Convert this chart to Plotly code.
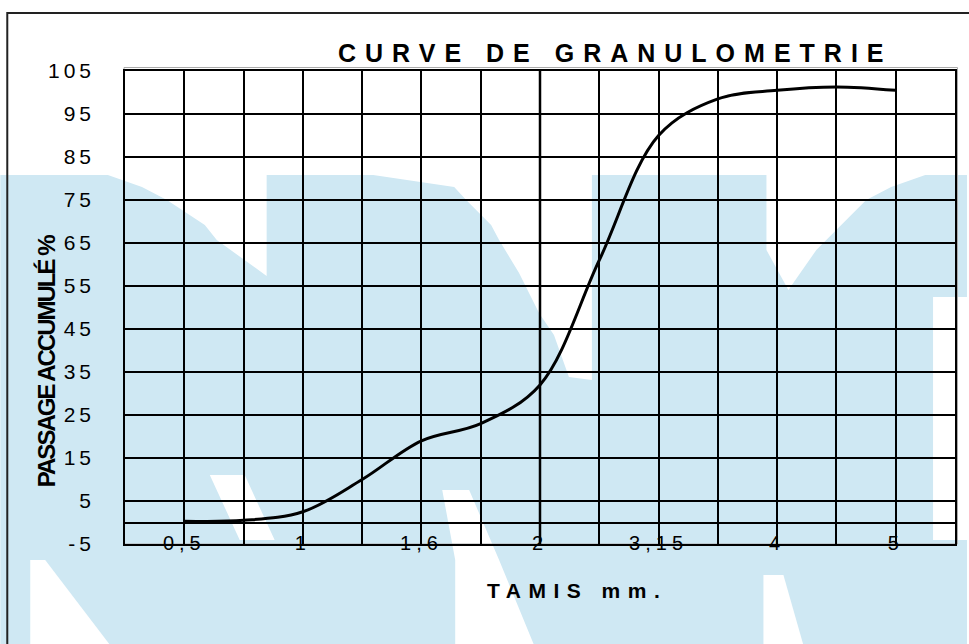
import plotly.graph_objects as go

# ---- data ----
sieve_labels = ['0,5', '1', '1,6', '2', '3,15', '4', '5']
point_positions = [0, 0.5, 1, 1.5, 2, 2.5, 3, 3.5, 4, 4.5, 5, 5.5, 6]
passing_pct = [0.3, 0.5, 2.5, 10, 19, 23, 32, 61, 90, 98.5, 100.5, 101.3, 100.5]
y_tick_values = [-5, 5, 15, 25, 35, 45, 55, 65, 75, 85, 95, 105]
y_tick_labels = ['-5', '5', '15', '25', '35', '45', '55', '65', '75', '85', '95', '105']

FONT = 'Liberation Sans, Arial, sans-serif'
W, H = 969, 644
PL, PR, PT, PB = 125, 957, 71, 544


def px(x):
    return (x - PL) / (PR - PL)


def py(y):
    return (PB - y) / (PB - PT)


def path(points):
    return 'M ' + ' L '.join(f'{px(x):.5f},{py(y):.5f}' for x, y in points) + ' Z'


def spaced(t, sp):
    return f'<span style="letter-spacing:{sp}px">{t}</span>' if t else ''


BLUE = '#cfe8f3'
shapes = []
# background mosaic (approximate)
shapes.append(dict(type='path', path=path([(0, 175), (969, 175), (969, 644), (0, 644)]),
                   xref='paper', yref='paper', fillcolor=BLUE, line_width=0, layer='below'))
white_polys = [
    [(105, 174), (267, 174), (267, 276), (217, 240), (205, 225), (167, 200), (142, 187)],
    [(367, 174), (593, 174), (593, 380), (570, 377), (555, 335), (540, 313), (520, 273),
     (500, 240), (492, 225), (467, 200), (455, 187)],
    [(768, 174), (930, 174), (893, 187), (868, 200), (843, 225), (818, 250), (790, 290), (768, 250)],
    [(935, 297), (970, 297), (970, 540), (935, 540)],
    [(30, 560), (45, 560), (110, 645), (30, 645)],
    [(210, 475), (245, 475), (275, 540), (240, 540)],
    [(443, 490), (470, 490), (500, 560), (535, 645), (456, 645), (456, 560)],
    [(765, 575), (785, 575), (805, 645), (765, 645)],
]
for poly in white_polys:
    shapes.append(dict(type='path', path=path(poly), xref='paper', yref='paper',
                       fillcolor='white', line_width=0, layer='below'))
# outer frame
shapes.append(dict(type='path', path=f'M {px(7):.5f},{py(700):.5f} L {px(7):.5f},{py(13):.5f} L {px(1000):.5f},{py(13):.5f}',
                   xref='paper', yref='paper', line=dict(color='#222', width=2), layer='below'))
# grey plot-area border
shapes.append(dict(type='rect', x0=px(124), x1=px(959.5), y0=py(544), y1=py(67.5),
                   xref='paper', yref='paper', line=dict(color='#aaaaaa', width=1), layer='below'))
# thicker line at the value-axis crossing (category "2")
cross = sieve_labels.index('2')
shapes.append(dict(type='line', xref='x', yref='paper', x0=cross, x1=cross, y0=0, y1=1,
                   line=dict(color='black', width=2.5), layer='above'))

tickvals = point_positions
ticktext = [spaced(sieve_labels[int(p)], 5) if float(p).is_integer() else '' for p in point_positions]

fig = go.Figure()
fig.add_trace(go.Scatter(x=point_positions, y=passing_pct, mode='lines',
                         line=dict(color='black', width=3, shape='spline', smoothing=1),
                         showlegend=False, hoverinfo='skip'))

fig.update_layout(
    width=W, height=H,
    margin=dict(l=PL, r=W - PR, t=PT, b=H - PB),
    paper_bgcolor='white', plot_bgcolor='rgba(0,0,0,0)',
    font=dict(family=FONT, color='black', size=20),
    shapes=shapes,
    showlegend=False,
    annotations=[
        dict(text=spaced('<b>CURVE DE GRANULOMETRIE</b>', 9), x=px(617), y=py(53),
             xref='paper', yref='paper', showarrow=False, xanchor='center', yanchor='middle',
             font=dict(family=FONT, size=25, color='black')),
        dict(text=spaced('<b>TAMIS mm.</b>', 7.5), x=px(578), y=py(590),
             xref='paper', yref='paper', showarrow=False, xanchor='center', yanchor='middle',
             font=dict(family=FONT, size=21, color='black')),
        dict(text=spaced('<b>PASSAGE ACCUMULÉ %</b>', -2), x=px(46), y=py(361), textangle=-90,
             xref='paper', yref='paper', showarrow=False, xanchor='center', yanchor='middle',
             font=dict(family=FONT, size=24, color='black')),
    ],
)
fig.update_xaxes(range=[-0.5, 6.5], tickmode='array', tickvals=tickvals, ticktext=ticktext,
                 showgrid=True, gridcolor='black', gridwidth=1.5, zeroline=False,
                 showline=True, mirror=True, linecolor='black', linewidth=1.5,
                 ticks='', ticklabelstandoff=-20, tickfont=dict(size=20, family=FONT))
fig.update_yaxes(range=[-5, 105], tickmode='array', tickvals=y_tick_values,
                 ticktext=[spaced(t, 4) for t in y_tick_labels],
                 showgrid=True, gridcolor='black', gridwidth=1.5,
                 zeroline=True, zerolinecolor='black', zerolinewidth=1.5,
                 showline=True, mirror=True, linecolor='black', linewidth=1.5,
                 ticks='', ticklabelstandoff=24, tickfont=dict(size=21, family=FONT))

fig.write_html('out.html', config={'displayModeBar': False},
               post_script="document.body.style.margin='0';")
